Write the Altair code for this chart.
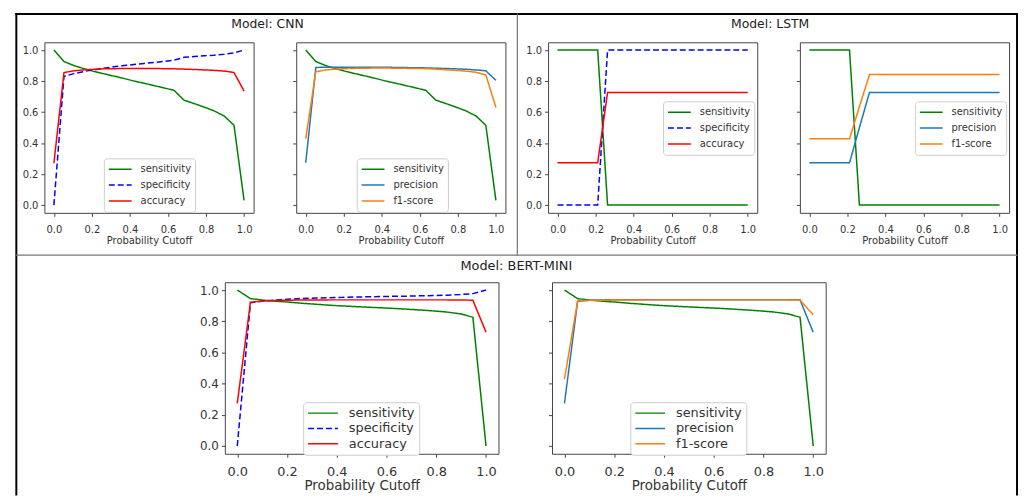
import altair as alt
import pandas as pd

# ---------------- data ----------------
cutoffs = [0.0, 0.053, 0.105, 0.158, 0.211, 0.263, 0.316, 0.368, 0.421, 0.474,
           0.526, 0.579, 0.632, 0.684, 0.737, 0.789, 0.842, 0.895, 0.947, 1.0]

cnn_sensitivity = [1.0, 0.926, 0.90, 0.88, 0.862, 0.847, 0.832, 0.817, 0.80, 0.786,
                   0.771, 0.756, 0.74, 0.677, 0.655, 0.633, 0.608, 0.575, 0.515, 0.03]
cnn_specificity = [0.0, 0.83, 0.848, 0.862, 0.873, 0.883, 0.892, 0.90, 0.907, 0.914,
                   0.92, 0.927, 0.935, 0.953, 0.958, 0.963, 0.967, 0.973, 0.982, 1.0]
cnn_accuracy = [0.27, 0.855, 0.866, 0.872, 0.876, 0.879, 0.88, 0.881, 0.881, 0.881,
                0.881, 0.88, 0.879, 0.877, 0.875, 0.872, 0.869, 0.865, 0.855, 0.735]
cnn_precision = [0.273, 0.888, 0.889, 0.889, 0.889, 0.889, 0.889, 0.889, 0.889, 0.888,
                 0.887, 0.886, 0.885, 0.883, 0.881, 0.879, 0.876, 0.872, 0.866, 0.805]
cnn_f1 = [0.428, 0.86, 0.872, 0.877, 0.88, 0.882, 0.883, 0.884, 0.884, 0.883,
          0.882, 0.881, 0.88, 0.877, 0.873, 0.869, 0.864, 0.857, 0.84, 0.63]

lstm_sensitivity = [1.0, 1.0, 1.0, 1.0, 1.0, 0.0, 0.0, 0.0, 0.0, 0.0,
                    0.0, 0.0, 0.0, 0.0, 0.0, 0.0, 0.0, 0.0, 0.0, 0.0]
lstm_specificity = [0.0, 0.0, 0.0, 0.0, 0.0, 1.0, 1.0, 1.0, 1.0, 1.0,
                    1.0, 1.0, 1.0, 1.0, 1.0, 1.0, 1.0, 1.0, 1.0, 1.0]
lstm_accuracy = [0.273, 0.273, 0.273, 0.273, 0.273, 0.727, 0.727, 0.727, 0.727, 0.727,
                 0.727, 0.727, 0.727, 0.727, 0.727, 0.727, 0.727, 0.727, 0.727, 0.727]
lstm_precision = [0.273, 0.273, 0.273, 0.273, 0.273, 0.5, 0.727, 0.727, 0.727, 0.727,
                  0.727, 0.727, 0.727, 0.727, 0.727, 0.727, 0.727, 0.727, 0.727, 0.727]
lstm_f1 = [0.428, 0.428, 0.428, 0.428, 0.428, 0.635, 0.842, 0.842, 0.842, 0.842,
           0.842, 0.842, 0.842, 0.842, 0.842, 0.842, 0.842, 0.842, 0.842, 0.842]

bert_sensitivity = [1.0, 0.945, 0.935, 0.928, 0.922, 0.915, 0.909, 0.903, 0.898, 0.894,
                    0.89, 0.886, 0.882, 0.877, 0.872, 0.866, 0.859, 0.848, 0.826, 0.0]
bert_specificity = [0.0, 0.918, 0.93, 0.937, 0.942, 0.946, 0.949, 0.951, 0.953, 0.955,
                    0.957, 0.958, 0.96, 0.961, 0.963, 0.965, 0.967, 0.971, 0.977, 1.0]
bert_accuracy = [0.273, 0.922, 0.93, 0.933, 0.935, 0.936, 0.936, 0.937, 0.937, 0.937,
                 0.937, 0.937, 0.937, 0.937, 0.937, 0.937, 0.937, 0.936, 0.935, 0.729]
bert_precision = [0.273, 0.928, 0.935, 0.937, 0.938, 0.938, 0.938, 0.938, 0.938, 0.938,
                  0.938, 0.938, 0.938, 0.938, 0.938, 0.938, 0.938, 0.938, 0.937, 0.729]
bert_f1 = [0.428, 0.932, 0.934, 0.935, 0.936, 0.936, 0.937, 0.937, 0.937, 0.937,
           0.937, 0.937, 0.937, 0.937, 0.937, 0.937, 0.937, 0.937, 0.936, 0.841]

metrics_a = ["sensitivity", "specificity", "accuracy"]
metrics_b = ["sensitivity", "precision", "f1-score"]
colors_a = ["#008000", "#0000ff", "#ff0000"]
colors_b = ["#008000", "#1f77b4", "#ff7f0e"]
dashes_a = [[1, 0], [6, 3], [1, 0]]
dashes_b = [[1, 0], [1, 0], [1, 0]]

tick_values = [0.0, 0.2, 0.4, 0.6, 0.8, 1.0]
group_titles = ["Model: CNN", "Model: LSTM", "Model: BERT-MINI"]

FONT = "DejaVu Sans"
TXT = "#333333"
FRAME = "#444444"


def make_df(names, series):
    rows = []
    for name, vals in zip(names, series):
        for c, v in zip(cutoffs, vals):
            rows.append({"cutoff": c, "value": v, "series": name})
    return pd.DataFrame(rows)


def panel(names, series, colors, dashes, w, h, lx, ly, big, show_y):
    lab = 13 if big else 10
    ttl = 13.5 if big else 10
    leg = dict(title=None, orient="none", legendX=lx, legendY=ly,
               symbolType="stroke", symbolSize=900 if big else 529,
               symbolStrokeWidth=1.5, clipHeight=14, rowPadding=1.5 if big else 2,
               labelFontSize=13 if big else 10, labelFont=FONT, labelColor=TXT,
               labelOffset=10 if big else 8, padding=4, fillColor="white",
               strokeColor="#cccccc", cornerRadius=3)
    xs = alt.Scale(domain=[-0.05, 1.05], nice=False, zero=False)
    ys = alt.Scale(domain=[-0.05, 1.05], nice=False, zero=False)
    return alt.Chart(make_df(names, series)).mark_line(strokeWidth=1.5).encode(
        x=alt.X("cutoff:Q", scale=xs,
                axis=alt.Axis(values=tick_values, format=".1f", title="Probability Cutoff",
                              labelFontSize=lab, titleFontSize=ttl,
                              labelPadding=8, titlePadding=1)),
        y=alt.Y("value:Q", scale=ys,
                axis=alt.Axis(values=tick_values, format=".1f", title=None,
                              labels=show_y, labelFontSize=12 if big else 10,
                              labelPadding=3)),
        color=alt.Color("series:N", scale=alt.Scale(domain=names, range=colors),
                        legend=alt.Legend(**leg)),
        strokeDash=alt.StrokeDash("series:N", scale=alt.Scale(domain=names, range=dashes),
                                  legend=alt.Legend(**leg)),
    ).properties(width=w, height=h)


def title_layer(text, x, y, size):
    return alt.Chart(pd.DataFrame({"label": [text]})).mark_text(
        font=FONT, fontSize=size, color="#222222", align="center", baseline="middle"
    ).encode(x=alt.value(x), y=alt.value(y), text="label:N")


one = pd.DataFrame({"k": [0]})


def hrule(x1, x2, y, color, sw):
    return alt.Chart(one).mark_rule(color=color, strokeWidth=sw, strokeCap="square").encode(
        x=alt.value(x1), x2=alt.value(x2), y=alt.value(y))


def vrule(x, y1, y2, color, sw):
    return alt.Chart(one).mark_rule(color=color, strokeWidth=sw, strokeCap="square").encode(
        x=alt.value(x), y=alt.value(y1), y2=alt.value(y2))


TW, TH = 211, 172
BW, BH = 276, 173

cnn1 = panel(metrics_a, [cnn_sensitivity, cnn_specificity, cnn_accuracy], colors_a, dashes_a,
             TW, TH, 60, 117, False, True)
cnn2 = panel(metrics_b, [cnn_sensitivity, cnn_precision, cnn_f1], colors_b, dashes_b,
             TW, TH, 61, 117, False, False)
lstm1 = panel(metrics_a, [lstm_sensitivity, lstm_specificity, lstm_accuracy], colors_a, dashes_a,
              TW, TH, 116, 59.5, False, True)
lstm2 = panel(metrics_b, [lstm_sensitivity, lstm_precision, lstm_f1], colors_b, dashes_b,
              TW, TH, 116, 59.5, False, False)
bert1 = panel(metrics_a, [bert_sensitivity, bert_specificity, bert_accuracy], colors_a, dashes_a,
              BW, BH, 79, 121, True, True)
bert2 = panel(metrics_b, [bert_sensitivity, bert_precision, bert_f1], colors_b, dashes_b,
              BW, BH, 79, 121, True, False)

# frame decorations drawn relative to the first CNN panel
L, R, T, B, MID_Y = -28.3, 981, -28.5, 456, 214.7
cnn1 = alt.layer(
    cnn1,
    title_layer(group_titles[0], 225, -18, 12.5),
    hrule(L, R, T, "#000000", 2),
    vrule(L, T, B, "#000000", 2),
    vrule(R, T, B, "#000000", 2),
    hrule(L, R, MID_Y, "#777777", 1.2),
)
# vertical divider drawn relative to the first LSTM panel
lstm1 = alt.layer(
    lstm1,
    title_layer(group_titles[1], 224, -18, 12.5),
    vrule(-31, T, MID_Y, "#777777", 1.2),
)
bert1 = alt.layer(bert1, title_layer(group_titles[2], 294, -16, 13))

spacer = alt.Chart(one).mark_point(opacity=0).encode(
    x=alt.value(0), y=alt.value(0)
).properties(width=128, height=BH, view=alt.ViewBackground(stroke=None))

top = alt.hconcat(cnn1, cnn2, lstm1, lstm2, spacing=43, bounds="flush").resolve_scale(
    color="independent", strokeDash="independent").resolve_legend(
    color="independent", strokeDash="independent")
bottom = alt.hconcat(spacer, bert1, bert2, spacing=54, bounds="flush").resolve_scale(
    color="independent", strokeDash="independent").resolve_legend(
    color="independent", strokeDash="independent")

chart = alt.vconcat(top, bottom, spacing=242, bounds="flush").resolve_scale(
    color="independent", strokeDash="independent").resolve_legend(
    color="independent", strokeDash="independent").properties(
    padding={"left": 5.7, "top": 1.5, "right": 0, "bottom": 0}
).configure_view(stroke=FRAME, strokeWidth=1).configure_axis(
    grid=False, domain=False, tickColor=FRAME, tickSize=3.5, tickWidth=1,
    labelColor=TXT, labelFont=FONT, titleFont=FONT, titleColor=TXT,
    titleFontWeight="normal"
)

chart.save("out.html", embed_options={"renderer": "svg", "actions": False})
